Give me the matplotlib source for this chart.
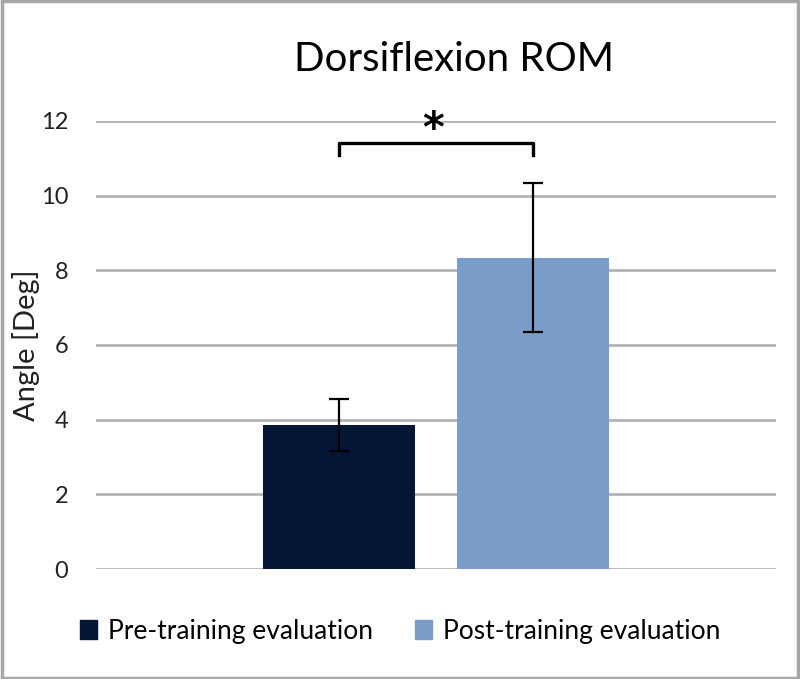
import matplotlib.pyplot as plt
import matplotlib.patches as mpatches

plt.rcParams['font.family'] = ['Lato', 'DejaVu Sans']

# data
groups = ["Pre-training evaluation", "Post-training evaluation"]
means = [3.85, 8.34]
errors = [0.69, 2.0]
colors = ["#041536", "#7b9dc8"]
yticks = [0, 2, 4, 6, 8, 10, 12]

fig = plt.figure(figsize=(8, 6.79), dpi=100)
ax = fig.add_axes([0.12, 0.162, 0.85, 0.66])

offsets = [-0.1426, 0.1426]
width = 0.2235
for off, m, e, c, g in zip(offsets, means, errors, colors, groups):
    ax.bar(off, m, width=width, color=c, label=g, zorder=2)
    ax.errorbar(off, m, yerr=e, color="black", capsize=7, elinewidth=1.6,
                capthick=1.6, zorder=3)

ax.set_xlim(-0.5, 0.5)
ax.set_ylim(0, 12)
ax.set_yticks(yticks)
ax.set_xticks([])
ax.tick_params(axis="y", length=0, pad=20, labelsize=17, labelcolor="#222222")
ax.yaxis.grid(True, color="#b4b4b4", linewidth=2, zorder=0)
for s in ax.spines.values():
    s.set_visible(False)
ax.set_ylabel("Angle [Deg]", fontsize=21, color="#222222")
ax.yaxis.set_label_coords(-0.082, 0.5)

# significance bracket
bx = [offsets[0], offsets[0], offsets[1], offsets[1]]
by = [11.08, 11.40, 11.40, 11.08]
ax.plot(bx, by, color="black", linewidth=2.4, clip_on=False, zorder=4)
ax.text(-0.005, 11.75, "*", ha="center", va="center", fontsize=30,
        fontweight="bold", family="DejaVu Sans", zorder=5)

fig.text(0.567, 0.912, "Dorsiflexion ROM", ha="center", va="center", fontsize=29)

handles = [mpatches.Patch(color=c) for c in colors]
fig.legend(handles, groups, loc="center", bbox_to_anchor=(0.5, 0.07), ncol=2,
           frameon=False, fontsize=19, handlelength=0.65, handleheight=0.75,
           handletextpad=0.4, columnspacing=1.6)

border = mpatches.Rectangle((0.002, 0.002), 0.996, 0.996, transform=fig.transFigure,
                            fill=False, edgecolor="#a6a6a6", linewidth=2.5)
fig.patches.append(border)

fig.savefig("out.png", dpi=100)
